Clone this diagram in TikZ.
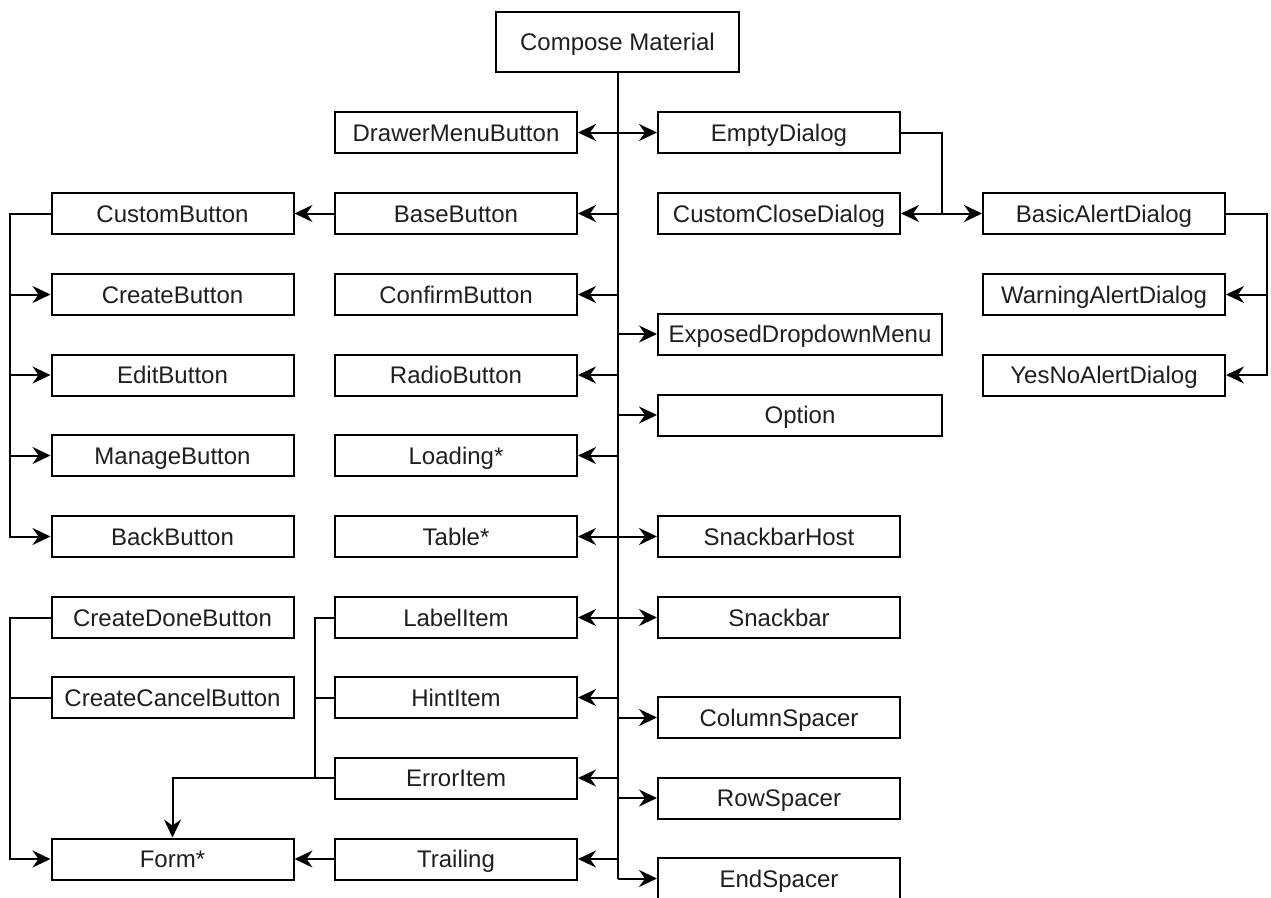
\documentclass[tikz,border=0pt]{standalone}
\usepackage{fontspec}
\setmainfont{Liberation Sans}
\usetikzlibrary{arrows.meta,calc}
\begin{document}
\begin{tikzpicture}[x=1pt,y=-1pt,
  box/.style={draw=black, line width=2pt, fill=white, inner sep=0pt,
    minimum width=242pt, minimum height=41pt,
    text height=17pt, text depth=0pt,
    font=\fontsize{24}{28}\selectfont, text=black!88},
  widebox/.style={box, minimum width=284pt},
  link/.style={line width=2pt, draw=black},
  arr/.style={link, -{Stealth[length=18pt,width=17pt,inset=6pt]}},
]
\useasboundingbox (0,0) rectangle (1271,897);

% root
\node[box, minimum width=243pt, minimum height=60pt] (compose) at (617.5,42) {Compose Material};

% middle-left column
\node[box] (drawer)   at (456,132.5) {DrawerMenuButton};
\node[box] (base)     at (456,213.5) {BaseButton};
\node[box] (confirm)  at (456,294.5) {ConfirmButton};
\node[box] (radio)    at (456,375)   {RadioButton};
\node[box] (loading)  at (456,455.5) {Loading*};
\node[box] (table)    at (456,536.5) {Table*};
\node[box] (label)    at (456,617.5) {LabelItem};
\node[box] (hint)     at (456,697.5) {HintItem};
\node[box] (error)    at (456,778)   {ErrorItem};
\node[box] (trailing) at (456,859)   {Trailing};

% far-left column
\node[box] (custom)   at (172.5,213.5) {CustomButton};
\node[box] (create)   at (172.5,294.5) {CreateButton};
\node[box] (edit)     at (172.5,375)   {EditButton};
\node[box] (manage)   at (172.5,455.5) {ManageButton};
\node[box] (back)     at (172.5,536.5) {BackButton};
\node[box] (cdone)    at (172.5,617.5) {CreateDoneButton};
\node[box] (ccancel)  at (172.5,697.5) {CreateCancelButton};
\node[box] (form)     at (172.5,859)   {Form*};

% middle-right column
\node[box] (empty)    at (779,132.5) {EmptyDialog};
\node[box] (cclose)   at (779,213.5) {CustomCloseDialog};
\node[widebox] (dropdown) at (800,334) {ExposedDropdownMenu};
\node[widebox] (option)   at (800,415) {Option};
\node[box] (snhost)   at (779,536.5) {SnackbarHost};
\node[box] (snack)    at (779,617.5) {Snackbar};
\node[box] (colsp)    at (779,717.5) {ColumnSpacer};
\node[box] (rowsp)    at (779,798)   {RowSpacer};
\node[box] (endsp)    at (779,878.5) {EndSpacer};

% far-right column
\node[box] (basic)    at (1104,213.5) {BasicAlertDialog};
\node[box] (warning)  at (1104,294.5) {WarningAlertDialog};
\node[box] (yesno)    at (1104,375)   {YesNoAlertDialog};

% trunk
\draw[link] (compose.south) -- (compose.south |- endsp.west);
\foreach \n in {drawer,base,confirm,radio,loading,table,label,hint,error,trailing}
  \draw[arr] (compose.south |- \n.east) -- (\n.east);
\foreach \n in {empty,dropdown,option,snhost,snack,colsp,rowsp}
  \draw[arr] (compose.south |- \n.west) -- (\n.west);
\draw[arr] (compose.south |- endsp.west) -- (endsp.west);

% button family
\draw[arr] (base.west) -- (custom.east);
\coordinate (lx) at (10,0);
\draw[arr] (custom.west) -- (lx |- custom.west) |- (back.west);
\foreach \n in {create,edit,manage}
  \draw[arr] (lx |- \n.west) -- (\n.west);

% form family
\draw[arr] (cdone.west) -- (lx |- cdone.west) |- (form.west);
\draw[link] (ccancel.west) -- (lx |- ccancel.west);
\coordinate (ix) at (315,0);
\draw[link] (label.west) -- (ix |- label.west) -- (ix |- error.west);
\draw[link] (hint.west) -- (ix |- hint.west);
\draw[arr] (error.west) -| (form.north);
\draw[arr] (trailing.west) -- (form.east);

% dialog family
\coordinate (dj) at (942,213.5);
\draw[link] (empty.east) -| (dj);
\draw[arr] (dj) -- (cclose.east);
\draw[arr] (dj) -- (basic.west);
\coordinate (bj) at (1267,213.5);
\draw[arr] (basic.east) -- (bj) |- (yesno.east);
\draw[arr] (bj |- warning.east) -- (warning.east);
\end{tikzpicture}
\end{document}
